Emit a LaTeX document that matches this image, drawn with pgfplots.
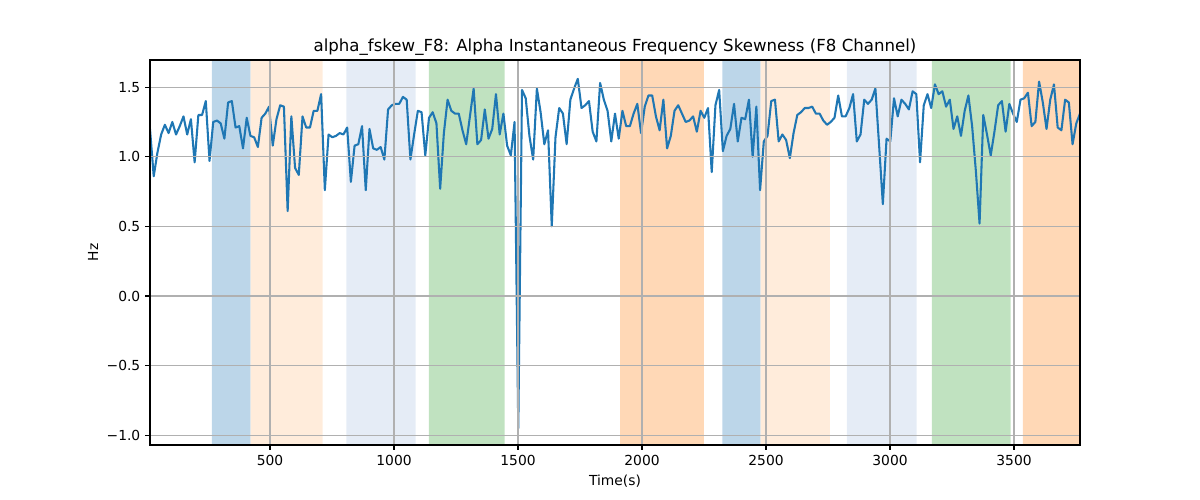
\documentclass[border=0pt]{standalone}
\usepackage{fontspec}
\setmainfont{DejaVu Sans}
\usepackage{pgfplots}
\usepackage{pgfplotstable}
\pgfplotsset{compat=1.18}
\definecolor{mplblue}{HTML}{1F77B4}
\definecolor{spanblue}{RGB}{188,214,233}
\definecolor{spanpeach}{RGB}{255,236,219}
\definecolor{spanlight}{RGB}{229,236,246}
\definecolor{spangreen}{RGB}{192,226,192}
\definecolor{spanorange}{RGB}{255,216,182}
\definecolor{gridgray}{HTML}{B0B0B0}
\pgfplotstableread{
x y
16 1.20
31 0.86
46 1.03
61 1.16
76 1.23
91 1.17
106 1.25
121 1.16
136 1.22
151 1.29
166 1.16
181 1.27
196 0.96
211 1.30
226 1.30
241 1.40
256 0.97
271 1.25
286 1.26
301 1.24
316 1.13
331 1.39
346 1.40
361 1.21
376 1.22
391 1.06
406 1.28
421 1.15
436 1.14
451 1.07
466 1.28
481 1.31
496 1.36
511 1.08
526 1.27
541 1.37
556 1.36
571 0.61
586 1.29
601 0.92
616 0.87
631 1.29
646 1.21
661 1.21
676 1.33
691 1.33
706 1.45
721 0.76
736 1.16
751 1.14
766 1.15
781 1.17
796 1.16
811 1.21
826 0.82
841 1.08
856 1.09
871 1.22
886 0.76
901 1.20
916 1.06
931 1.05
946 1.07
961 0.98
976 1.34
991 1.37
1006 1.38
1021 1.38
1036 1.43
1051 1.41
1066 0.98
1081 1.16
1096 1.33
1111 1.32
1126 1.01
1141 1.28
1156 1.32
1171 1.24
1186 0.77
1201 1.17
1216 1.41
1231 1.33
1246 1.31
1261 1.31
1276 1.19
1291 1.09
1306 1.29
1321 1.49
1336 1.09
1351 1.12
1366 1.34
1381 1.13
1396 1.20
1411 1.45
1426 1.16
1441 1.31
1456 1.08
1471 1.01
1486 1.25
1501 -0.95
1516 1.48
1531 1.42
1546 1.15
1561 0.98
1576 1.49
1591 1.32
1606 1.09
1621 1.19
1636 0.50
1651 1.14
1666 1.35
1681 1.31
1696 1.09
1711 1.41
1726 1.49
1741 1.56
1756 1.35
1771 1.37
1786 1.40
1801 1.18
1816 1.11
1831 1.53
1846 1.41
1861 1.33
1876 1.11
1891 1.31
1906 1.13
1921 1.33
1936 1.22
1951 1.22
1966 1.31
1981 1.38
1996 1.17
2011 1.36
2026 1.44
2041 1.44
2056 1.29
2071 1.19
2086 1.41
2101 1.06
2116 1.15
2131 1.33
2146 1.37
2161 1.31
2176 1.25
2191 1.26
2206 1.29
2221 1.18
2236 1.33
2251 1.28
2266 1.35
2281 0.89
2296 1.37
2311 1.48
2326 1.04
2341 1.15
2356 1.20
2371 1.38
2386 1.11
2401 1.28
2416 1.27
2431 1.41
2446 1.00
2461 1.36
2476 0.76
2491 1.11
2506 1.15
2521 1.40
2536 1.41
2551 1.11
2566 1.16
2581 1.12
2596 0.99
2611 1.17
2626 1.30
2641 1.32
2656 1.35
2671 1.35
2686 1.36
2701 1.31
2716 1.31
2731 1.26
2746 1.23
2761 1.25
2776 1.28
2791 1.44
2806 1.29
2821 1.29
2836 1.35
2851 1.45
2866 1.11
2881 1.16
2896 1.41
2911 1.38
2926 1.41
2941 1.49
2956 1.08
2971 0.66
2986 1.13
3001 1.11
3016 1.42
3031 1.29
3046 1.41
3061 1.38
3076 1.34
3091 1.47
3106 1.45
3121 0.96
3136 1.37
3151 1.45
3166 1.35
3181 1.52
3196 1.45
3211 1.47
3226 1.36
3241 1.41
3256 1.20
3271 1.29
3286 1.15
3301 1.33
3316 1.44
3331 1.22
3346 0.90
3361 0.52
3376 1.30
3391 1.16
3406 1.01
3421 1.18
3436 1.37
3451 1.40
3466 1.18
3481 1.38
3496 1.31
3511 1.25
3526 1.41
3541 1.42
3556 1.46
3571 1.22
3586 1.25
3601 1.54
3616 1.39
3631 1.20
3646 1.41
3661 1.52
3676 1.21
3691 1.19
3706 1.41
3721 1.39
3736 1.09
3751 1.24
3766 1.31
}\skewdata
\begin{document}
\begin{tikzpicture}
\useasboundingbox (-1.5in,-0.55in) rectangle (10.5in,4.45in);
\begin{axis}[
  at={(0,0)}, anchor=south west,
  scale only axis, width=9.3in, height=3.85in,
  xmin=16, xmax=3766, ymin=-1.07, ymax=1.695,
  xtick={500,1000,1500,2000,2500,3000,3500},
  xticklabels={500,1000,1500,2000,2500,3000,3500},
  ytick={-1,-0.5,0,0.5,1,1.5},
  yticklabels={−1.0,−0.5,0.0,0.5,1.0,1.5},
  tick pos=left,
  grid=major, grid style={gridgray, line width=0.8pt},
  tick align=outside, major tick length=3.5pt,
  tick style={black, line width=0.8pt},
  axis line style={black, line width=0.8pt},
  tick label style={font=\fontsize{10}{12}\selectfont},
  title={alpha\_fskew\_F8: Alpha Instantaneous Frequency Skewness (F8 Channel)},
  title style={font=\fontsize{12}{14}\selectfont, at={(axis description cs:0.5,1)}, anchor=center, yshift=3.6pt},
  xlabel={Time(s)},
  xlabel style={font=\fontsize{10}{12}\selectfont, at={(axis description cs:0.5,0)}, anchor=center, yshift=-25.9pt},
  ylabel={Hz},
  ylabel style={font=\fontsize{10}{12}\selectfont, at={(axis description cs:-0.0612,0.5)}, anchor=center},
  axis on top,
]
\addplot[fill=spanblue, draw=none] coordinates {(266,-2) (422,-2) (422,3) (266,3)} \closedcycle;
\addplot[fill=spanpeach, draw=none] coordinates {(422,-2) (712,-2) (712,3) (422,3)} \closedcycle;
\addplot[fill=spanlight, draw=none] coordinates {(808,-2) (1087,-2) (1087,3) (808,3)} \closedcycle;
\addplot[fill=spangreen, draw=none] coordinates {(1140,-2) (1446,-2) (1446,3) (1140,3)} \closedcycle;
\addplot[fill=spanorange, draw=none] coordinates {(1912,-2) (2249,-2) (2249,3) (1912,3)} \closedcycle;
\addplot[fill=spanblue, draw=none] coordinates {(2324,-2) (2478,-2) (2478,3) (2324,3)} \closedcycle;
\addplot[fill=spanpeach, draw=none] coordinates {(2478,-2) (2757,-2) (2757,3) (2478,3)} \closedcycle;
\addplot[fill=spanlight, draw=none] coordinates {(2826,-2) (3107,-2) (3107,3) (2826,3)} \closedcycle;
\addplot[fill=spangreen, draw=none] coordinates {(3169,-2) (3486,-2) (3486,3) (3169,3)} \closedcycle;
\addplot[fill=spanorange, draw=none] coordinates {(3536,-2) (3900,-2) (3900,3) (3536,3)} \closedcycle;
\addplot[mplblue, line width=1.5pt, line join=round] table[x=x, y=y] {\skewdata};
\end{axis}
\end{tikzpicture}
\end{document}
